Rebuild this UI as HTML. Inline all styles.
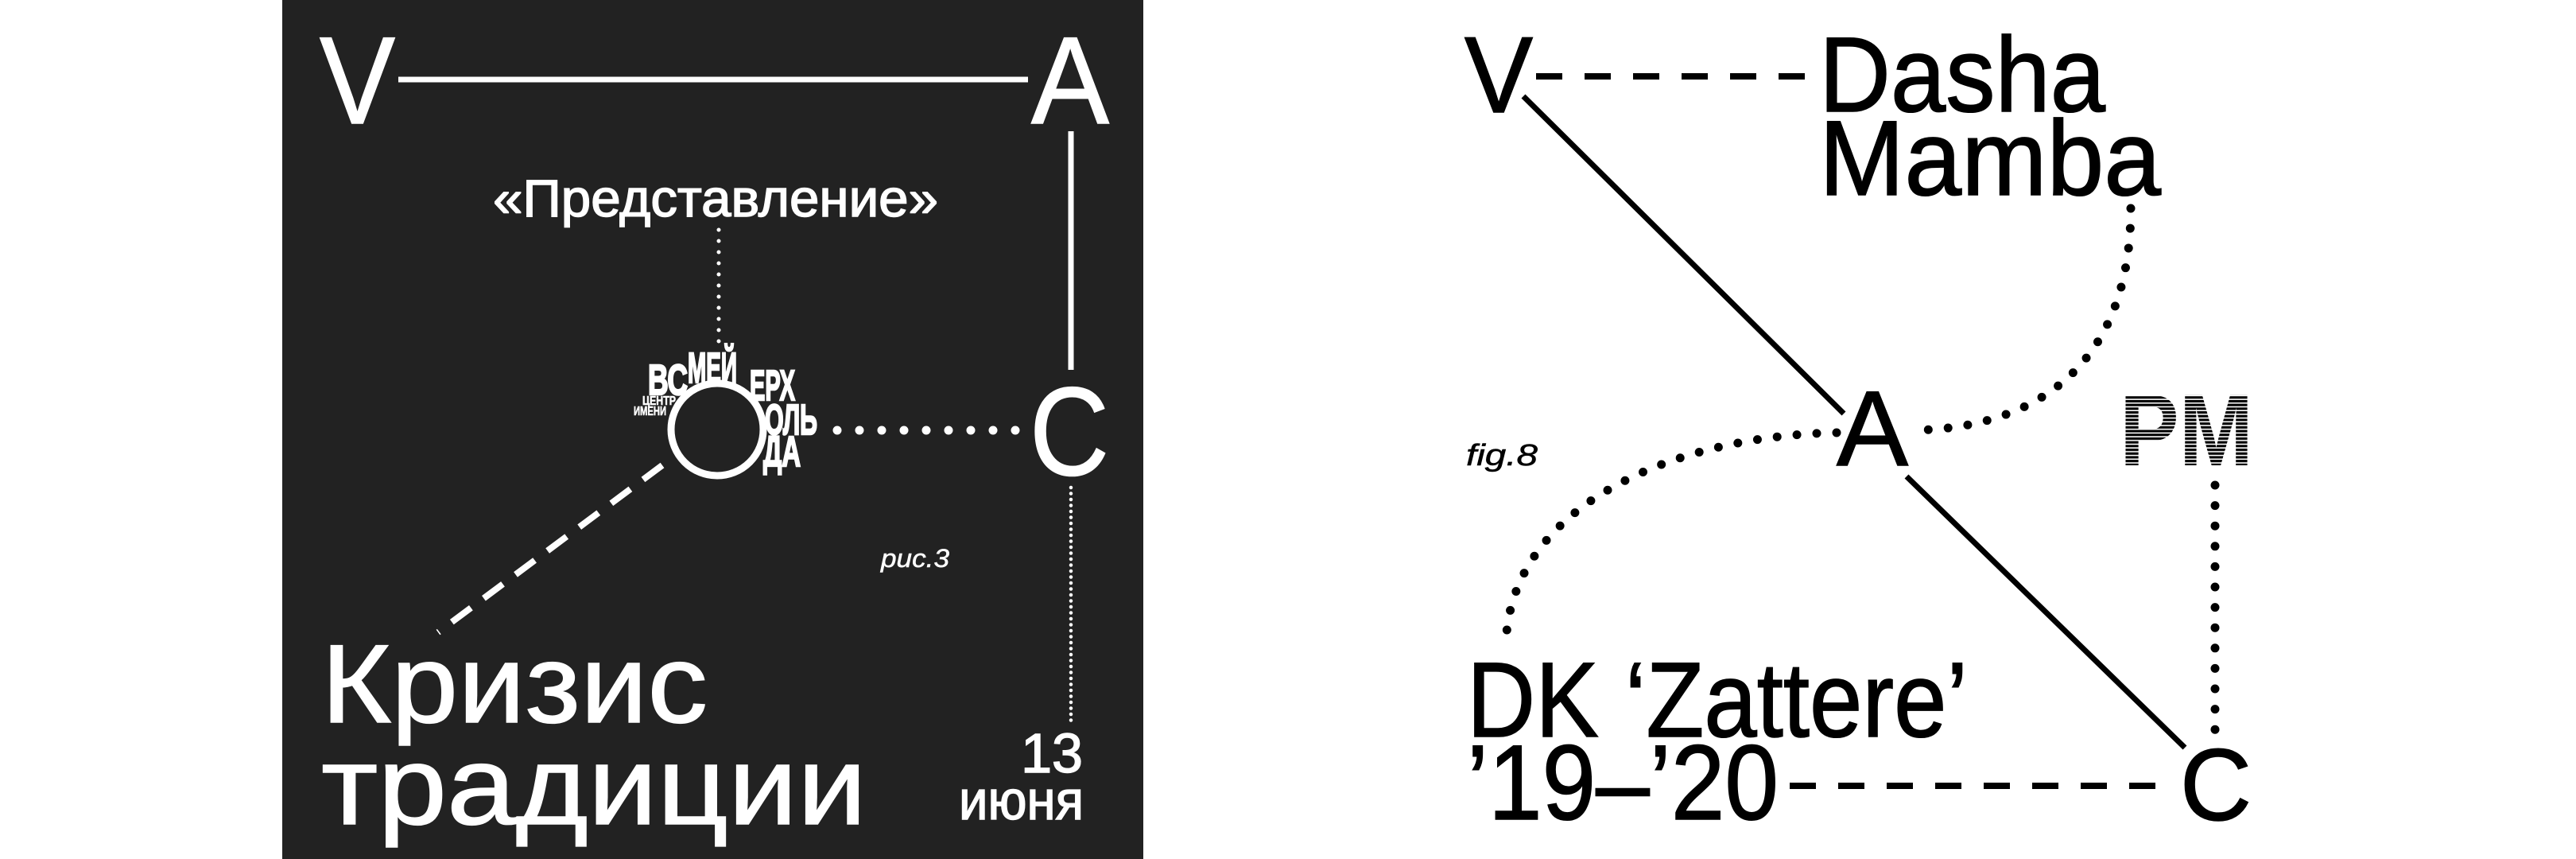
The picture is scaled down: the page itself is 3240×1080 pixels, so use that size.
<!DOCTYPE html>
<html><head><meta charset="utf-8"><style>
html,body{margin:0;padding:0;background:#fff;width:3240px;height:1080px;overflow:hidden}
svg{display:block}
.t{font-family:"Liberation Sans",sans-serif}
</style></head><body>
<svg width="3240" height="1080" viewBox="0 0 3240 1080" xmlns="http://www.w3.org/2000/svg">
<defs>
<pattern id="str" width="10" height="4.7" patternUnits="userSpaceOnUse">
<rect width="10" height="3.1" fill="#000"/>
</pattern>
</defs>
<rect x="0" y="0" width="3240" height="1080" fill="#fff"/>
<!-- Panel 1 -->
<rect x="355" y="0" width="1083" height="1080" fill="#222"/>
<g class="t" fill="#fff" stroke="#fff" stroke-width="1.5">
<text x="402" y="155" font-size="156" textLength="95" lengthAdjust="spacingAndGlyphs">V</text>
<text x="1297" y="155" font-size="156" textLength="98" lengthAdjust="spacingAndGlyphs">A</text>
<text x="1295" y="597" font-size="158" textLength="100" lengthAdjust="spacingAndGlyphs">C</text>
<text x="620" y="272" font-size="66" textLength="560" lengthAdjust="spacingAndGlyphs">«Представление»</text>
<text x="1108" y="713" font-size="32" font-style="italic" stroke-width="0.5" textLength="86" lengthAdjust="spacingAndGlyphs">рис.3</text>
<text x="404" y="908" font-size="140" textLength="486" lengthAdjust="spacingAndGlyphs">Кризис</text>
<text x="404" y="1036" font-size="140" textLength="686" lengthAdjust="spacingAndGlyphs">традиции</text>
<text x="1362" y="971" font-size="70" text-anchor="end">13</text>
<text x="1206" y="1030" font-size="70" textLength="157" lengthAdjust="spacingAndGlyphs">июня</text>
</g>
<g stroke="#fff" fill="none">
<line x1="501" y1="100" x2="1293" y2="100" stroke-width="7"/>
<line x1="1347" y1="165" x2="1347" y2="465" stroke-width="7"/>
<line x1="904" y1="289" x2="904" y2="430" stroke-width="5" stroke-linecap="round" stroke-dasharray="0 14"/>
<line x1="1053" y1="541" x2="1278" y2="541" stroke-width="11" stroke-linecap="round" stroke-dasharray="0 28"/>
<line x1="1347" y1="613" x2="1347" y2="913" stroke-width="4.5" stroke-linecap="round" stroke-dasharray="0 7.5"/>
<line x1="833" y1="585" x2="551" y2="795" stroke-width="8" stroke-dasharray="30 20"/>
</g>
<!-- logo -->
<g fill="#fff" stroke="#fff" stroke-width="2.5" font-family="'Liberation Sans Narrow','Liberation Sans',sans-serif" font-weight="bold">
<text x="815" y="496" font-size="54" textLength="50" lengthAdjust="spacingAndGlyphs">ВС</text>
<text x="865" y="481" font-size="54" textLength="62" lengthAdjust="spacingAndGlyphs">МЕЙ</text>
<text x="943" y="503" font-size="54" textLength="57" lengthAdjust="spacingAndGlyphs">ЕРХ</text>
<text x="962" y="546" font-size="54" textLength="66" lengthAdjust="spacingAndGlyphs">ОЛЬ</text>
<text x="960" y="586" font-size="54" textLength="47" lengthAdjust="spacingAndGlyphs">ДА</text>
<text x="808" y="509" font-size="16" stroke-width="0.6" textLength="42" lengthAdjust="spacingAndGlyphs">ЦЕНТР</text>
<text x="797" y="522" font-size="16" stroke-width="0.6" textLength="41" lengthAdjust="spacingAndGlyphs">ИМЕНИ</text>
</g>
<circle cx="902" cy="540" r="54" fill="#222"/>
<circle cx="902" cy="540" r="58" fill="none" stroke="#fff" stroke-width="9"/>

<!-- Panel 2 -->
<g class="t" fill="#000" stroke="#000" stroke-width="1.5">
<text x="1842" y="141" font-size="136" textLength="86" lengthAdjust="spacingAndGlyphs">V</text>
<text x="2288" y="140" font-size="134" textLength="360" lengthAdjust="spacingAndGlyphs">Dasha</text>
<text x="2288" y="245" font-size="134" textLength="430" lengthAdjust="spacingAndGlyphs">Mamba</text>
<text x="2310" y="585" font-size="134" textLength="90" lengthAdjust="spacingAndGlyphs">A</text>
<text x="2742" y="1031" font-size="128" textLength="90" lengthAdjust="spacingAndGlyphs">C</text>
<text x="1844" y="585" font-size="38" font-style="italic" stroke-width="0.5" textLength="90" lengthAdjust="spacingAndGlyphs">fig.8</text>
<text x="1845" y="926" font-size="134" textLength="630" lengthAdjust="spacingAndGlyphs">DK ‘Zattere’</text>
<text x="1845" y="1030" font-size="134" textLength="392" lengthAdjust="spacingAndGlyphs">’19–’20</text>
<text x="2666" y="585" font-size="128" font-weight="bold" stroke="none" fill="url(#str)" textLength="168" lengthAdjust="spacingAndGlyphs">PM</text>
</g>
<g stroke="#000" fill="none">
<line x1="1932" y1="96" x2="2284" y2="96" stroke-width="8" stroke-dasharray="33 28"/>
<line x1="2251" y1="988" x2="2737" y2="988" stroke-width="8" stroke-dasharray="33 28"/>
<line x1="1916" y1="121" x2="2319" y2="520" stroke-width="7"/>
<line x1="2398" y1="599" x2="2748" y2="940" stroke-width="7"/>
<line x1="2786" y1="610" x2="2786" y2="918" stroke-width="11" stroke-linecap="round" stroke-dasharray="0 25.6"/>
<path d="M2680,262 C2680,460 2560,540 2402,541" stroke-width="11" stroke-linecap="round" stroke-dasharray="0 25"/>
<path d="M2310,544 C2100,548 1894,640 1894,816" stroke-width="11" stroke-linecap="round" stroke-dasharray="0 25"/>
</g>
</svg>
</body></html>
